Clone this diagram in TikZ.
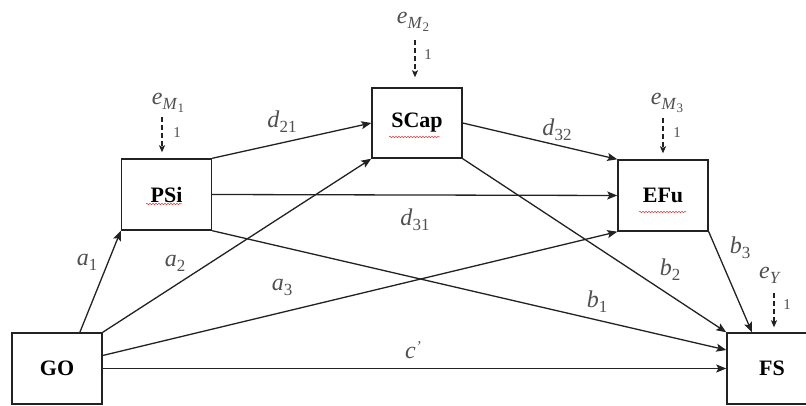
\documentclass[tikz,border=0pt]{standalone}
\usepackage{fontspec}
\setmainfont{Liberation Serif}
\usetikzlibrary{arrows.meta,calc,decorations.pathmorphing}
\definecolor{ink}{HTML}{222222}
\definecolor{labgray}{HTML}{505050}
\definecolor{spell}{HTML}{E04040}
% path coefficient: italic letter with a lowered index
\newcommand\coef[2]{\textit{#1}\raisebox{-0.45ex}{\fontsize{17}{17}\selectfont #2}}
% error term e with a two-level index
\newcommand\errlab[2]{\textit{e}\raisebox{-0.45ex}{\fontsize{17}{17}\selectfont\textit{#1}\raisebox{-0.4ex}{\fontsize{13}{13}\selectfont #2}}}
\begin{document}
\begin{tikzpicture}[x=1pt,y=-1pt,
  var/.style={draw=ink,line width=1.4pt,minimum width=90pt,minimum height=71pt,
    inner sep=0pt,font=\fontsize{22}{24}\selectfont\bfseries},
  link/.style={draw=ink,line width=1.3pt,-{Stealth[length=10pt,width=8pt,inset=2pt]}},
  err/.style={draw=ink,line width=1.3pt,dash pattern=on 5pt off 3pt,
    -{Stealth[length=7pt,width=6pt,inset=1.5pt]}},
  lab/.style={text=labgray,font=\fontsize{24}{26}\selectfont,inner sep=0pt},
  one/.style={text=labgray,font=\fontsize{15}{16}\selectfont,inner sep=0pt},
  squiggle/.style={draw=spell,line width=0.5pt,decorate,
    decoration={snake,amplitude=0.8pt,segment length=3pt}}
]
\useasboundingbox[fill=white] (0,0) rectangle (806,406);

% variables
\node[var] (GO)   at (57,368.5)  {GO};
\node[var] (PSi)  at (166.5,194.5) {PSi};
\node[var,minimum height=70pt] (SCap) at (417,123) {SCap};
\node[var] (EFu)  at (663,195.5) {EFu};
\node[var] (FS)   at (772,368.5) {FS};

% spell-check underlines
\draw[squiggle] (146,204) -- (182,204);
\draw[squiggle] (389,137) -- (440,137);
\draw[squiggle] (639,212) -- (686,212);

% structural paths
\draw[link] ($(GO.north west)!0.75!(GO.north east)$) -- (PSi.south west);
\draw[link] (GO.north east) -- (SCap.south west);
\draw[link] ([yshift=13pt]GO.east) -- (EFu.south west);
\draw[link] (GO.east) -- (FS.west);
\draw[link] (PSi.north east) -- (SCap.west);
\draw[link] (PSi.east) -- (EFu.west);
\draw[link] (SCap.east) -- (EFu.north west);
\draw[link] (PSi.south east) -- ([yshift=18.5pt]FS.west);
\draw[link] (SCap.south east) -- (FS.north west);
\draw[link] (EFu.south east) -- ([xshift=-20pt]FS.north);

% coefficients
\node[lab] (la1) at (87,262)  {\coef{a}{1}};
\node[lab] (la2) at (175,263) {\coef{a}{2}};
\node[lab] (la3) at (282,287) {\coef{a}{3}};
\node[lab] (lc)  at (413,350) {\textit{c}\raisebox{0.7ex}{\fontsize{15}{15}\selectfont\textit{'}}};
\node[lab] (ld21) at (282,122) {\coef{d}{21}};
\node[lab] (ld31) at (415,220) {\coef{d}{31}};
\node[lab] (ld32) at (557,130) {\coef{d}{32}};
\node[lab] (lb1) at (597,302) {\coef{b}{1}};
\node[lab] (lb2) at (670,270) {\coef{b}{2}};
\node[lab] (lb3) at (740,248) {\coef{b}{3}};

% error terms
\node[lab] (eM1) at (168,103) {\errlab{M}{1}};
\node[lab] (eM2) at (413,22)  {\errlab{M}{2}};
\node[lab] (eM3) at (667,103) {\errlab{M}{3}};
\node[lab] (eY)  at (770,275) {\textit{e}\raisebox{-0.45ex}{\fontsize{17}{17}\selectfont\textit{Y}}};

\coordinate (tM1) at (162,117);
\coordinate (tM2) at (415,40);
\coordinate (tM3) at (663,118);
\coordinate (tY)  at (774,293);
\draw[err,shorten >=6pt] (tM1) -- (tM1 |- PSi.north);
\draw[err,shorten >=10pt] (tM2) -- (tM2 |- SCap.north);
\draw[err,shorten >=6pt] (tM3) -- (tM3 |- EFu.north);
\draw[err,shorten >=5pt] (tY) -- (tY |- FS.north);

\node[one] (o1) at (177,133) {1};
\node[one] (o2) at (428,55)  {1};
\node[one] (o3) at (677,133) {1};
\node[one] (o4) at (787,305) {1};
\end{tikzpicture}
\end{document}
